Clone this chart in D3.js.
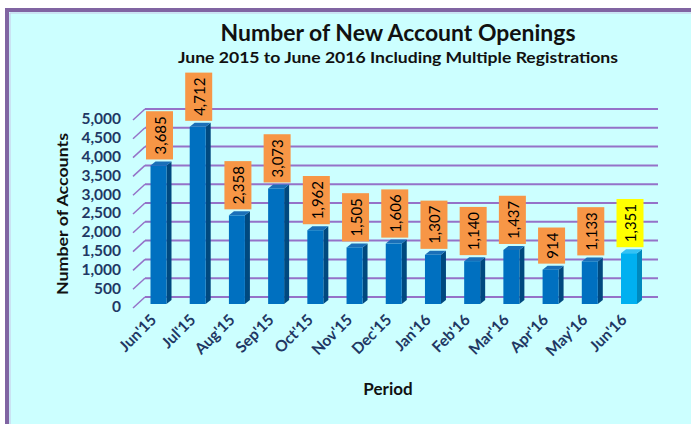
<!DOCTYPE html>
<html lang="en">
<head>
    <meta charset="UTF-8">
    <script src="https://cdnjs.cloudflare.com/ajax/libs/d3/7.8.5/d3.min.js"></script>
    <style>
        body { margin: 0; background: #fff; }
        svg { display: block; font-family: Lato, "Open Sans", sans-serif; }
    </style>
</head>
<body>
<svg width="691" height="424"></svg>
<script>
    const months = ["Jun'15", "Jul'15", "Aug'15", "Sep'15", "Oct'15", "Nov'15", "Dec'15",
        "Jan'16", "Feb'16", "Mar'16", "Apr'16", "May'16", "Jun'16"];
    const accounts = [3685, 4712, 2358, 3073, 1962, 1505, 1606, 1307, 1140, 1437, 914, 1133, 1351];
    const yTicks = [0, 500, 1000, 1500, 2000, 2500, 3000, 3500, 4000, 4500, 5000];

    const svg = d3.select('svg');

    // frame
    svg.append('rect').attr('x', 7).attr('y', 10).attr('width', 700).attr('height', 430)
        .style('fill', '#ccffff').style('stroke', '#8064a2').style('stroke-width', 4);
    svg.append('line').attr('x1', 10).attr('x2', 691).attr('y1', 13).attr('y2', 13)
        .style('stroke', '#c8c8e8').style('stroke-width', 1);
    svg.append('line').attr('x1', 10).attr('x2', 10).attr('y1', 13).attr('y2', 424)
        .style('stroke', '#c8c8e8').style('stroke-width', 1);

    const xScale = d3.scalePoint().domain(months).range([158.5, 629]);
    const yBack = d3.scaleLinear().domain([0, 5000]).range([297, 109]);
    const yBar = d3.scaleLinear().domain([0, 5000]).range([304, 116]);

    const barW = 16, dx = 5, dy = 4;

    // gridlines on back wall plus slanted side lines
    const grid = svg.append('g');
    yTicks.forEach(t => {
        grid.append('line').attr('x1', 145).attr('x2', 658)
            .attr('y1', yBack(t)).attr('y2', yBack(t))
            .style('stroke', '#9572c8').style('stroke-width', 2);
        grid.append('line').attr('x1', 133).attr('x2', 145)
            .attr('y1', yBack(t) + 11).attr('y2', yBack(t))
            .style('stroke', '#9572c8').style('stroke-width', 1.5);
    });

    // y tick labels
    svg.append('g').selectAll('text').data(yTicks).enter()
        .append('text')
        .attr('x', 121).attr('y', d => yBack(d) + 10)
        .attr('dy', '0.35em')
        .attr('text-anchor', 'end')
        .style('font-size', '15.5px').style('font-weight', 'bold').style('fill', '#1f3864')
        .text(d => d3.format(',')(d));

    // bars
    const last = months.length - 1;
    const bars = svg.append('g').selectAll('g').data(accounts).enter().append('g');
    bars.append('path')
        .style('fill', (d, i) => i === last ? '#0089bd' : '#00497f')
        .attr('d', (d, i) => {
            const x = xScale(months[i]) + barW / 2;
            return `M${x},${yBar(d)} L${x + dx},${yBar(d) - dy} L${x + dx},${yBar(0) - dy} L${x},${yBar(0)} Z`;
        });
    bars.append('path')
        .style('fill', (d, i) => i === last ? '#33c2f5' : '#1a6fb8')
        .attr('d', (d, i) => {
            const x = xScale(months[i]) - barW / 2;
            return `M${x},${yBar(d)} L${x + dx},${yBar(d) - dy} L${x + barW + dx},${yBar(d) - dy} L${x + barW},${yBar(d)} Z`;
        });
    bars.append('rect')
        .attr('x', (d, i) => xScale(months[i]) - barW / 2)
        .attr('y', d => yBar(d))
        .attr('width', barW)
        .attr('height', d => yBar(0) - yBar(d))
        .style('fill', (d, i) => i === last ? '#00b0f0' : '#0070c0');

    // data labels
    const labels = svg.append('g').selectAll('g').data(accounts).enter().append('g');
    labels.each(function (d, i) {
        const g = d3.select(this);
        const cx = xScale(months[i]) + 1;
        const bottom = yBar(d) - 6;
        const txt = g.append('text')
            .attr('text-anchor', 'middle')
            .attr('dy', '0.35em')
            .style('font-size', '15px').style('fill', '#000')
            .text(d3.format(',')(d));
        const len = txt.node().getComputedTextLength();
        const h = len + 10;
        g.insert('rect', 'text')
            .attr('x', cx - 13.5).attr('y', bottom - h)
            .attr('width', 27).attr('height', h)
            .style('fill', i === last ? '#ffff00' : '#f79646');
        txt.attr('transform', `translate(${cx + 1},${bottom - h / 2}) rotate(-90)`);
    });

    // x labels
    svg.append('g').selectAll('text').data(months).enter()
        .append('text')
        .attr('transform', d => `translate(${xScale(d) - 5},${317}) rotate(-45)`)
        .attr('text-anchor', 'end')
        .attr('dy', '0.35em')
        .style('font-size', '15.5px').style('font-weight', 'bold').style('fill', '#1f3864')
        .text(d => d);

    // titles
    svg.append('text').attr('x', 398).attr('y', 41).attr('text-anchor', 'middle')
        .attr('textLength', 355).attr('lengthAdjust', 'spacingAndGlyphs')
        .style('font-size', '22px').style('font-weight', 'bold').style('fill', '#111')
        .text('Number of New Account Openings');
    svg.append('text').attr('x', 398).attr('y', 63).attr('text-anchor', 'middle')
        .attr('textLength', 440).attr('lengthAdjust', 'spacingAndGlyphs')
        .style('font-size', '15px').style('font-weight', 'bold').style('fill', '#111')
        .text('June 2015 to June 2016 Including Multiple Registrations');
    svg.append('text').attr('x', 388).attr('y', 395).attr('text-anchor', 'middle')
        .style('font-size', '17px').style('font-weight', 'bold').style('fill', '#111')
        .text('Period');
    svg.append('text')
        .attr('transform', 'translate(68,214) rotate(-90)')
        .attr('text-anchor', 'middle')
        .attr('textLength', 162).attr('lengthAdjust', 'spacingAndGlyphs')
        .style('font-size', '16px').style('font-weight', 'bold').style('fill', '#111')
        .text('Number of Accounts');
</script>
</body>
</html>
